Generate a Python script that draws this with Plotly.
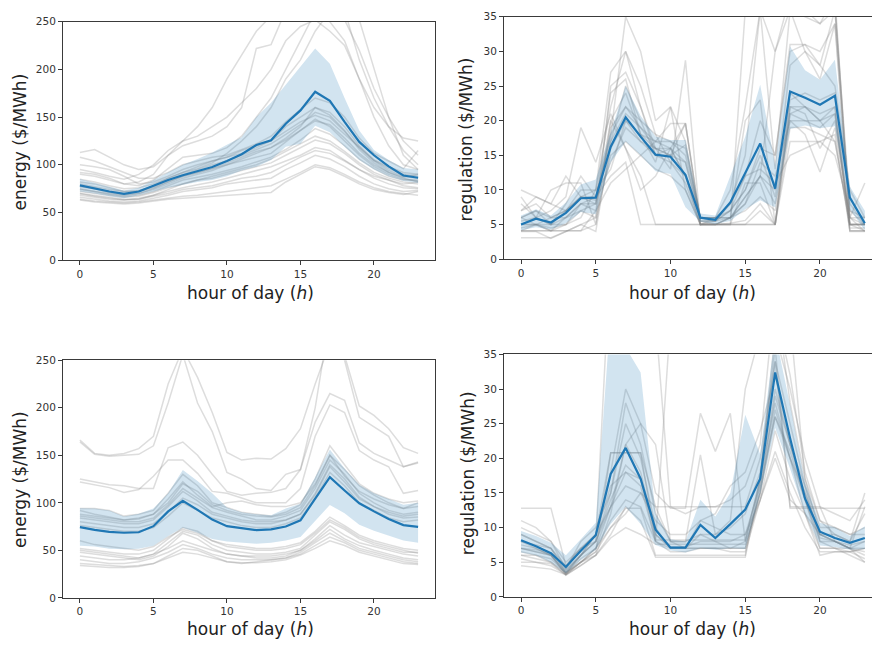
import plotly.graph_objects as go

hours = list(range(24))

# ---------- panel 1: energy (top) ----------
p1_mean = [78.5,75,72,69.5,72,78,84,89,93,97.7,104,111,120.7,125.8,143,157,176.6,167,145,124,110,98.4,88.8,86.4]
p1_upper = [85,81,77,73,76,84,92,100,106,113,121,129,150,165,184,203,222,206,170,136,115.5,105,96.7,95]
p1_lower = [72,70,67,65,68,72,76,79,82,84,88,94,98,105,119,122,141,134,119,105,95,88,83,81]
p1_days = [
    [63,61,60,59,60,62,64,65,66,67,68,69,70,71,82,90,98,95,88,80,74,71,69,72],
    [66,64,62,61,62,65,68,72,74,76,80,82,84,86,95,102,110,106,98,88,80,75,72,73],
    [70,67,65,63,65,68,72,76,79,82,86,90,94,98,104,110,118,115,105,95,86,80,76,75],
    [72,70,68,66,67,71,76,80,84,88,92,96,100,106,114,122,130,125,114,102,92,86,82,80],
    [75,72,70,68,70,74,80,86,90,94,100,104,108,112,124,136,148,140,125,110,98,90,85,83],
    [80,77,74,72,73,77,84,90,95,100,104,110,116,122,132,142,155,150,135,118,104,94,88,86],
    [85,82,78,75,76,80,86,92,98,104,108,112,118,125,135,145,152,146,132,118,105,96,90,88],
    [68,66,64,63,64,67,70,74,76,78,82,86,88,92,100,108,115,112,104,95,88,84,80,82],
    [100,98,95,88,80,82,88,95,100,104,108,115,120,125,140,150,160,155,140,120,105,98,92,90],
    [108,104,98,92,86,86,92,100,104,108,110,116,122,130,145,158,170,165,150,128,112,104,96,115],
    [113,116,108,100,95,98,110,125,130,140,150,165,180,200,230,245,252,240,225,190,160,140,128,125],
    [90,88,84,80,82,90,110,120,125,130,140,160,222,226,262,272,282,272,252,220,180,150,125,110],
    [95,92,88,85,90,100,115,125,140,160,190,215,240,256,276,292,302,292,262,210,170,140,115,100],
    [92,90,86,80,78,84,96,108,110,112,118,130,150,170,200,230,260,250,230,190,150,120,100,95],
    [78,76,72,70,72,78,86,92,96,102,112,125,140,160,190,210,240,262,282,252,200,150,110,95],
    [64,62,61,60,61,63,65,67,68,70,72,74,76,78,85,92,100,97,90,82,76,72,70,68],
    [74,72,69,67,68,72,78,84,87,90,94,98,103,108,116,126,138,132,120,106,96,88,84,84],
    [77,75,71,69,70,75,82,88,92,96,102,108,114,118,128,140,160,152,136,116,102,92,86,82],
    [82,80,76,72,72,76,82,88,92,96,100,106,112,118,126,136,146,142,128,112,100,92,87,90],
    [70,68,66,64,64,68,74,80,84,86,90,94,98,102,110,118,126,122,112,100,90,84,78,76],
]

# ---------- panel 2: regulation (top) ----------
p2_mean = [5.0,5.85,5.3,6.7,8.8,8.9,16.25,20.5,17.7,15.1,14.8,12.2,6.0,5.7,8.2,12.5,16.7,10.2,24.2,23.3,22.3,23.6,8.9,5.2]
p2_upper = [6.3,7.2,6.3,8.2,10.8,11.5,18.4,25,20.7,17.7,17.2,17.2,6.6,6.3,12,17.7,25.2,13.6,30.7,27.3,25.9,28.8,10.5,7.0]
p2_lower = [4.2,4.6,4.3,5.2,6.8,6.5,14,17,15,12.7,12.3,7.5,5.4,5.1,5.5,7.2,8.5,7.5,18.8,19.3,18.9,19.2,7.2,4.2]
p2_days = [
    [4.1,4.1,4.1,4.1,4.1,5,16,20,17,15,14,11,5,5,5,5,5,5,22,22,20,22,4.1,4.1],
    [5,6,5,6,8,8,18,22,19,16,16,19.6,5.5,5.5,6,7,9,7,20,20,19,21,5,5],
    [3.1,3.1,3.1,4,5,6,15,17,15,13,12,10,5,5,5,5,7,5,17,17,17,18,4.1,4.1],
    [10,9,8,7,9,10,22,30,25,18,17,15,6,6,6,8,12,10,28,30,28,25,10,6],
    [6,7,5,8,12,9,18,35,30,20,22,10,5,5.5,7,12,20,15,31,31,28,36,8,5],
    [5,5,4.1,5,7,6,25,27,22,16,15,16.5,6,5.5,8,15,36,13,36,30,26,34,7,5],
    [8,6,7,9,19,14,21,16,12,5,5,5,5,5,6,20,23,5,24,22,20,17,5,4.1],
    [7,9,8,12,9,8,20,24,18,16,13,28.7,5,5,6,8,14,12,20,18,12.6,19,6,5],
    [4.1,4.1,4.1,4.1,4.1,7,11,13,15,17,19.6,19.6,5,5,5.2,5.6,8,5,21,20,20,21,4,4],
    [6,5,6,7,10,10,27,30,22,15,16,12,6,6,10,22,36,30,36,35,34,36,6,11],
    [4,4,3,4,5,4,17,25,20,18,14,12,5,5,5,36,37,36,37,36,36,37,6,4],
    [7,8,6,7,9,9,12,14,5,5,5,5,5,5,5,5,5,5,19,19,18,17,5,5],
    [5,5,5,5,6,10,13,20,18,17,16,12,5,5,5,11,11,5,22,21,16,20,6,6],
    [9,6,10,11,11,5,20,16,10,12,16,14,6,6,8,12,13,11,15,16,17,15,7,6],
    [4.5,5,4.5,5,8,7,19,22,20,15,15,19.6,5.5,5.5,7,10,16,15,30,31,30,34,4.5,4.5],
    [6,7,6,6,7,8,24,26,18,14,22,17,5,6,6,9,12,30,38,36,34,38,5,5],
    [5.5,6,5,7,9,8.5,14,19,17,16,15,14,5.5,5,6,9,12,8,21,22,21,22,5,5],
    [4.1,5,4.1,6,8,9,17,21,19,17,17,16,6,6,7,10,15,9,23,24,23,24,5,5],
]

# ---------- panel 3: energy (bottom) ----------
p3_mean = [74.4,71.5,69.5,68.5,69,75.4,91,102,92.6,82.3,75.4,73.3,71.3,72,75,81.6,104.7,127,113,99.5,91,83,76.5,74.7]
p3_upper = [94.3,94,92,85.7,88.5,94,110,134.6,123,110,95,90,88,87,94,99,127,156,136,119,110,104,98,100]
p3_lower = [54.8,54,51.6,51,51.6,54.8,65,73.7,68.5,62,59.3,58,57,58,60.4,64,81,97.8,89,77,70.6,65.4,60.4,58]
p3_days = [
    [166,152,150,152,157,170,225,262,232,195,153,145,147,146,157,178,225,268,255,202,192,178,158,152],
    [164,151,149,150,151,160,205,256,205,175,132,125,115,113,130,135,200,295,250,190,180,170,138,143],
    [125,122,119,118,115,115,158,164,150,130,112,108,110,111,115,135,185,215,208,163,152,145,138,142],
    [122,119,116,111,114,128,145,145,131,112,110,105,100,100,100,115,170,203,195,155,145,138,110,113],
    [94,94,92,86,88,92,110,130,118,100,95,90,88,86,90,98,125,160,140,120,110,104,100,102],
    [92,88,85,82,84,88,100,120,112,98,92,88,86,85,88,95,118,150,135,118,108,100,94,100],
    [86,84,82,80,80,84,98,115,105,95,90,86,82,82,86,92,115,145,130,110,100,92,88,90],
    [80,78,76,74,74,78,90,105,98,88,84,80,78,78,82,88,110,140,125,106,96,88,84,85],
    [76,74,72,70,70,74,86,100,92,84,80,76,74,74,78,84,105,132,118,100,92,84,80,82],
    [60,56,54,52,50,54,64,72,68,60,56,54,52,52,54,58,70,85,76,66,60,56,52,50],
    [50,48,46,44,42,46,58,70,66,56,50,48,46,46,48,52,66,80,72,62,56,52,48,48],
    [48,46,44,42,40,44,54,68,62,52,46,44,44,44,46,50,62,76,66,58,54,50,46,44],
    [44,42,40,40,42,46,52,60,55,50,46,44,42,42,44,50,60,72,62,55,50,46,42,40],
    [40,38,36,36,38,42,48,56,52,46,42,40,40,40,42,48,58,68,60,52,48,44,40,38],
    [36,35,34,33,34,36,44,52,50,44,38,36,38,40,42,46,55,64,58,50,46,42,38,36],
    [34,33,32,32,33,36,42,48,46,42,38,37,37,38,40,45,52,60,55,48,44,40,36,35],
    [88,86,84,82,83,88,104,122,108,96,100,102,98,96,96,100,120,150,128,112,104,98,94,96],
    [52,50,48,46,46,50,62,74,70,60,54,52,50,50,52,56,68,82,74,64,58,54,50,47],
    [84,82,80,78,78,82,96,112,102,90,86,82,80,80,82,88,108,138,122,104,96,90,86,88],
]

# ---------- panel 4: regulation (bottom) ----------
p4_mean = [8.17,7.3,6.3,4.3,6.66,8.9,17.75,21.5,17.05,9.7,7.1,7.1,10.4,8.5,10.5,12.6,17.05,32.4,22.9,14.2,9.4,8.5,7.8,8.5]
p4_upper = [9.5,8.8,7.8,6.0,8.3,10.7,41,36,32.4,12,8.3,8.0,14.0,11.6,15,26.3,20.6,38,27.7,16.5,10.7,10.0,8.8,10.2]
p4_lower = [6.4,6.0,5.0,3.4,5.3,6.8,10.5,13.0,10.5,7.5,6.7,6.4,7.0,6.8,7.0,6.9,14.9,24.4,18.5,12,7.4,7.2,6.8,6.9]
p4_days = [
    [12.8,12.8,12.8,4.5,7,9,20.8,20.8,20.8,8.2,8.2,8.2,8.2,8.2,8.2,8.2,17,36,12.8,12.8,12.8,12.8,12.8,12.8],
    [7,6.5,6,3.2,5,6.5,10,12.8,12.8,6,6,6,6,6,6,6,17,28,20,15,9,8,7,7],
    [6,5.5,5,3.1,4.5,6,9,13,11,5.7,5.7,5.7,5.7,5.7,5.7,5.7,16,26,20,14,7,7,6.5,7],
    [10,9,8,4,8,10,15,28,22,12,8,8,20.5,9,10,12,18,34,25,16,8,8,7,13],
    [9,8,7,3.5,6,9,18,30,25,15,12.8,12.8,26.5,21,26.5,8,17,38,30,20,13,12,11,14],
    [8,7,6,3.3,6,8,15,25,20,10,7,7,11,12,16,18,24,32,22,15,9,8,7,6.5],
    [4.5,4.3,4,3.2,4.5,6,12,22,18,9,7,7,7,7,7,7,15,26,21,14,8,7,7,5],
    [11,10,8,5,7,8,13,18,17,8,6.5,6.5,7,7,7,7,15,29,22,16,10,10,9,9],
    [6.5,6,5.5,3.5,5,6,8.5,10,9,7.6,7.6,7.6,7.6,7.6,7.6,7.6,14,21,15,10,6.5,6.5,6.5,7],
    [7.5,7,6,3.8,6,9,16,18,16,8,40,40,40,40,40,40,40,40,40,17,9,8,7,8],
    [5,5,4.5,3.2,5,7,11,14,13,8,7,7,9,8,7,8,15,27,20,12,7,7,6,5],
    [8,7.5,7,4,6,8,50,60,50,40,13,12,13,13,14,16,22,44,28,17,11,10,9,10],
    [6,6,5,3.5,5,7,10,12,15,13,8,7,7,7,6.5,6.5,14,24,17,12,6,6.5,6.5,5.5],
    [9,8,7,4.5,7,9,13,16,15,11,9,9,11,10,9,9,14,20,14,12,9,9,8,12],
    [7,6.5,6,3.4,5.5,7,13,22,25,22,8,8,9,9,11,30,38,42,32,18,11,9,8,15],
    [5.5,5,4.8,3.3,5,6.5,20.8,20.8,20.8,13,13,13,13,13,13,13,20,34,13,13,13,8,7,6],
    [7,6.8,6.2,3.6,6,8,14,19,17,9,7.2,7.2,8,8,8,9,16,30,22,14,8.5,8,7.5,8],
]

x_label = "hour of day (<i>h</i>)"
y_labels = ["energy ($/MWh)", "regulation ($/MWh)", "energy ($/MWh)", "regulation ($/MWh)"]

W, H = 872, 647
def fx(px): return px / W
def fy(py): return 1 - py / H

panels = [
    dict(days=p1_days, mean=p1_mean, up=p1_upper, lo=p1_lower, xd=[fx(63), fx(435)], yd=[fy(259), fy(16)],
         xr=[-1.15, 24.15], yr=[0, 250], dt=50, mirror_y=True,
         ylab=(20, 139), xlab=(250, 292)),
    dict(days=p2_days, mean=p2_mean, up=p2_upper, lo=p2_lower, xd=[fx(504), 1.0], yd=[fy(258), fy(11)],
         xr=[-1.14, 23.48], yr=[0, 35], dt=5, mirror_y=False,
         ylab=(466, 136), xlab=(692, 292)),
    dict(days=p3_days, mean=p3_mean, up=p3_upper, lo=p3_lower, xd=[fx(63), fx(435)], yd=[fy(603), fy(361)],
         xr=[-1.15, 24.15], yr=[0, 250], dt=50, mirror_y=True,
         ylab=(20, 483), xlab=(250, 635)),
    dict(days=p4_days, mean=p4_mean, up=p4_upper, lo=p4_lower, xd=[fx(504), 1.0], yd=[fy(602), fy(355)],
         xr=[-1.14, 23.48], yr=[0, 35], dt=5, mirror_y=False,
         ylab=(468, 476), xlab=(692, 635)),
]

fig = go.Figure()
axis_color = "#3a3a3a"
layout = dict(width=W, height=H, margin=dict(l=0, r=0, t=0, b=0),
              paper_bgcolor="white", plot_bgcolor="white", showlegend=False,
              font=dict(family="DejaVu Sans", color="#333333"))
annotations = []

for i, p in enumerate(panels):
    n = "" if i == 0 else str(i + 1)
    xa, ya = "x" + n, "y" + n
    for d in p["days"]:
        fig.add_trace(go.Scatter(x=hours, y=d, mode="lines", xaxis=xa, yaxis=ya,
                                 line=dict(color="rgba(128,128,128,0.27)", width=1.5),
                                 hoverinfo="skip"))
    fig.add_trace(go.Scatter(x=hours + hours[::-1], y=p["up"] + p["lo"][::-1], mode="lines",
                             xaxis=xa, yaxis=ya, fill="toself", fillcolor="rgba(31,119,180,0.2)",
                             line=dict(width=0, color="rgba(31,119,180,0)"), hoverinfo="skip"))
    fig.add_trace(go.Scatter(x=hours, y=p["mean"], mode="lines", xaxis=xa, yaxis=ya,
                             line=dict(color="#1f77b4", width=2.2)))
    layout["xaxis" + n] = dict(domain=p["xd"], range=p["xr"], anchor=ya, tickmode="array",
                               tickvals=[0, 5, 10, 15, 20], showgrid=False, zeroline=False,
                               showline=True, linecolor=axis_color, linewidth=1, mirror=True,
                               ticks="outside", ticklen=4, tickcolor=axis_color,
                               tickfont=dict(size=10.5, color="#333333"))
    layout["yaxis" + n] = dict(domain=p["yd"], range=p["yr"], anchor=xa, tickmode="linear",
                               tick0=0, dtick=p["dt"], showgrid=False, zeroline=False,
                               showline=True, linecolor=axis_color, linewidth=1,
                               mirror=p["mirror_y"], ticks="outside", ticklen=4,
                               tickcolor=axis_color, tickfont=dict(size=10.5, color="#333333"))
    annotations.append(dict(text=y_labels[i], x=fx(p["ylab"][0]), y=fy(p["ylab"][1]),
                            xref="paper", yref="paper", showarrow=False, textangle=-90,
                            xanchor="center", yanchor="middle",
                            font=dict(size=17, color="#222222", family="DejaVu Sans")))
    annotations.append(dict(text=x_label, x=fx(p["xlab"][0]), y=fy(p["xlab"][1]),
                            xref="paper", yref="paper", showarrow=False,
                            xanchor="center", yanchor="middle",
                            font=dict(size=17, color="#222222", family="DejaVu Sans")))

layout["annotations"] = annotations
fig.update_layout(**layout)
fig.write_html("out.html", config={"displayModeBar": False},
               post_script="document.body.style.margin='0';document.body.style.overflow='hidden';")
